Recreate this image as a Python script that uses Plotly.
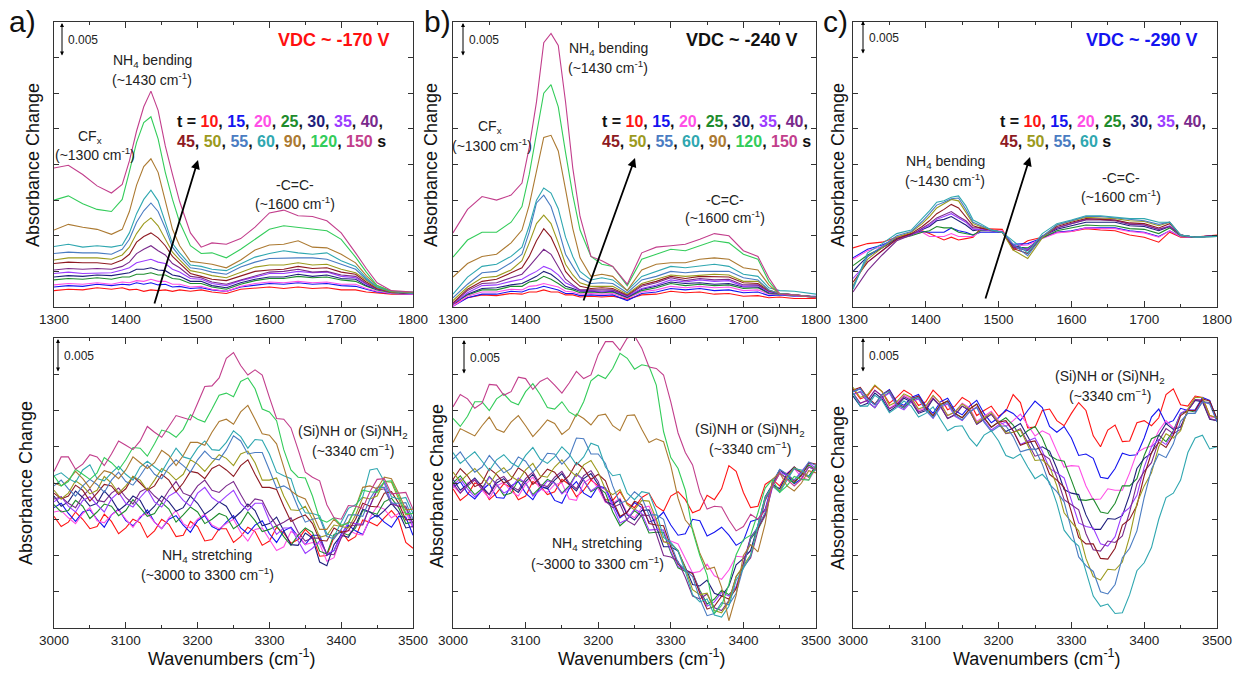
import plotly.graph_objects as go

W, H = 1242, 673
FONT = "Liberation Sans, Arial, sans-serif"
UNIT = 1e-4  # stored values are in units of 1e-4 absorbance

# ---------------- data ----------------
X_TOP = [1300, 1320, 1340, 1360, 1380, 1395, 1405, 1415, 1425, 1435, 1445, 1455, 1465, 1475, 1490,
         1505, 1520, 1540, 1560, 1580, 1600, 1620, 1640, 1660, 1680, 1700, 1720, 1735, 1750, 1770, 1800]
X_BOT = [3000, 3010, 3020, 3030, 3040, 3050, 3060, 3070, 3080, 3090, 3100, 3110, 3120, 3130, 3140,
         3150, 3160, 3170, 3180, 3190, 3200, 3210, 3220, 3230, 3240, 3250, 3260, 3270, 3280, 3290,
         3300, 3310, 3320, 3330, 3340, 3350, 3360, 3370, 3380, 3390, 3400, 3410, 3420, 3430, 3440,
         3450, 3460, 3470, 3480, 3490, 3500]

TIMES_AB = [10, 15, 20, 25, 30, 35, 40, 45, 50, 55, 60, 90, 120, 150]
TIMES_C = [10, 15, 20, 25, 30, 35, 40, 45, 50, 55, 60]

COLORS = {10: "#FF1414", 15: "#1414F0", 20: "#FF4FE6", 25: "#1E8C2C", 30: "#1E1E7C",
          35: "#9B3CFF", 40: "#7A2A8C", 45: "#8E1A22", 50: "#9C9A1E", 55: "#4A7CC2",
          60: "#2FA7B0", 90: "#AC7A32", 120: "#33CC5A", 150: "#C23E8C"}

A_TOP = {
    10: [23, 25, 24, 27, 25, 27, 24, 25, 22, 24, 23, 24, 22, 24, 22, 24, 21, 19, 25, 27, 28, 26, 28, 26, 27, 24, 24, 21, 20, 18, 18],
    15: [28, 30, 29, 32, 30, 32, 31, 34, 32, 34, 31, 32, 28, 29, 26, 27, 24, 22, 28, 31, 33, 32, 34, 32, 33, 30, 29, 25, 21, 19, 18],
    20: [31, 33, 32, 34, 32, 35, 34, 37, 36, 39, 36, 36, 32, 32, 28, 29, 25, 22, 29, 33, 35, 34, 36, 34, 35, 32, 32, 26, 22, 19, 18],
    25: [38, 40, 39, 41, 39, 42, 42, 46, 46, 48, 45, 45, 40, 39, 33, 33, 28, 25, 32, 37, 40, 40, 43, 41, 42, 38, 36, 29, 24, 20, 19],
    30: [42, 44, 43, 45, 44, 47, 48, 53, 53, 55, 52, 51, 45, 43, 36, 36, 30, 27, 34, 39, 42, 42, 46, 43, 45, 40, 39, 30, 25, 21, 19],
    35: [47, 49, 47, 48, 48, 52, 55, 62, 64, 67, 63, 61, 53, 49, 40, 39, 33, 30, 37, 42, 47, 47, 50, 48, 49, 43, 41, 32, 25, 21, 19],
    40: [52, 54, 53, 54, 53, 57, 63, 75, 81, 86, 79, 73, 61, 55, 43, 41, 35, 32, 38, 44, 49, 50, 53, 49, 50, 45, 43, 33, 25, 21, 19],
    45: [61, 63, 62, 62, 60, 66, 74, 91, 99, 104, 97, 86, 71, 61, 47, 43, 39, 37, 44, 50, 52, 53, 57, 54, 55, 49, 46, 35, 26, 21, 19],
    50: [66, 69, 69, 69, 67, 73, 84, 103, 117, 125, 114, 96, 77, 66, 51, 48, 44, 41, 49, 56, 59, 59, 62, 59, 60, 53, 48, 37, 27, 21, 20],
    55: [75, 77, 76, 76, 74, 81, 95, 119, 135, 146, 134, 111, 84, 71, 55, 53, 49, 46, 56, 63, 68, 69, 69, 69, 67, 60, 53, 39, 28, 22, 19],
    60: [85, 88, 84, 86, 84, 87, 104, 131, 151, 164, 149, 119, 89, 76, 59, 57, 53, 51, 61, 70, 75, 79, 76, 74, 76, 65, 57, 41, 28, 22, 19],
    90: [108, 116, 112, 109, 102, 109, 134, 171, 197, 208, 189, 151, 109, 86, 64, 62, 60, 55, 66, 80, 87, 88, 93, 84, 83, 74, 62, 44, 30, 22, 20],
    120: [150, 156, 145, 137, 134, 151, 190, 231, 259, 267, 236, 189, 151, 119, 86, 75, 76, 69, 81, 95, 109, 114, 112, 109, 107, 95, 70, 49, 30, 22, 21],
    150: [195, 199, 186, 170, 160, 172, 205, 247, 281, 303, 276, 226, 186, 148, 104, 84, 90, 88, 96, 112, 132, 136, 128, 127, 121, 104, 76, 54, 34, 23, 21],
}

B_TOP = {
    10: [4, 13, 17, 16, 19, 18, 21, 21, 24, 21, 21, 17, 17, 14, 15, 14, 15, 11, 17, 18, 22, 20, 21, 18, 19, 15, 16, 13, 14, 12, 12],
    15: [1, 13, 18, 18, 22, 21, 25, 26, 29, 26, 24, 19, 19, 16, 17, 16, 17, 9, 19, 21, 26, 24, 26, 23, 24, 20, 21, 16, 17, 15, 15],
    20: [1, 15, 21, 21, 25, 24, 29, 30, 33, 30, 28, 22, 21, 18, 19, 18, 19, 12, 21, 24, 29, 27, 29, 27, 28, 23, 24, 18, 18, 16, 14],
    25: [4, 17, 24, 24, 29, 29, 35, 37, 43, 39, 33, 26, 24, 20, 21, 20, 21, 13, 23, 27, 33, 30, 32, 30, 31, 26, 27, 19, 18, 16, 14],
    30: [4, 18, 26, 27, 31, 33, 38, 43, 50, 46, 38, 29, 26, 22, 22, 21, 22, 14, 25, 29, 35, 33, 34, 32, 33, 28, 28, 20, 19, 17, 14],
    35: [4, 20, 30, 31, 36, 39, 45, 50, 57, 53, 45, 34, 29, 23, 23, 22, 23, 15, 26, 31, 38, 35, 38, 36, 37, 29, 30, 21, 19, 17, 14],
    40: [5, 23, 33, 34, 41, 46, 57, 69, 81, 74, 57, 39, 31, 24, 24, 24, 24, 16, 29, 34, 41, 37, 40, 38, 39, 31, 31, 22, 19, 17, 14],
    45: [6, 25, 36, 39, 48, 55, 71, 93, 110, 98, 76, 50, 38, 29, 26, 27, 26, 17, 31, 36, 43, 40, 43, 42, 42, 34, 33, 23, 19, 17, 14],
    50: [9, 28, 41, 43, 52, 65, 90, 117, 129, 117, 90, 60, 45, 34, 29, 29, 29, 18, 33, 39, 45, 43, 45, 46, 45, 36, 36, 24, 19, 17, 14],
    55: [13, 32, 48, 50, 62, 74, 105, 146, 157, 141, 110, 74, 57, 41, 33, 34, 33, 20, 38, 43, 50, 48, 50, 50, 50, 41, 38, 24, 19, 17, 14],
    60: [18, 42, 57, 60, 71, 84, 114, 150, 167, 160, 138, 98, 71, 50, 38, 41, 38, 23, 43, 50, 57, 55, 57, 60, 57, 46, 43, 27, 23, 22, 18],
    90: [42, 61, 71, 74, 90, 108, 143, 193, 238, 241, 219, 165, 110, 69, 43, 46, 43, 23, 52, 60, 62, 62, 67, 69, 67, 55, 52, 31, 18, 17, 13],
    120: [70, 94, 105, 105, 119, 141, 186, 241, 300, 312, 281, 217, 157, 108, 71, 60, 57, 30, 67, 74, 81, 79, 86, 93, 90, 74, 67, 36, 18, 17, 13],
    150: [104, 137, 155, 150, 157, 174, 224, 288, 371, 384, 367, 288, 195, 127, 71, 65, 57, 32, 76, 84, 86, 88, 95, 103, 100, 79, 71, 41, 18, 17, 13],
}

C_TOP = {
    10: [83, 89, 91, 98, 103, 107, 103, 98, 94, 98, 94, 96, 98, 110, 110, 109, 80, 93, 98, 105, 106, 110, 108, 107, 101, 98, 91, 105, 98, 98, 101],
    15: [69, 81, 87, 96, 101, 106, 105, 105, 105, 111, 107, 105, 101, 105, 105, 105, 88, 89, 97, 105, 107, 111, 111, 111, 107, 105, 99, 107, 99, 98, 100],
    20: [67, 79, 85, 96, 101, 105, 99, 99, 99, 103, 99, 99, 99, 107, 107, 107, 86, 87, 96, 104, 106, 111, 110, 110, 106, 104, 98, 107, 99, 98, 100],
    25: [58, 73, 83, 95, 100, 105, 107, 113, 111, 111, 105, 103, 101, 107, 107, 105, 84, 83, 97, 107, 111, 115, 114, 114, 110, 109, 103, 111, 100, 98, 100],
    30: [50, 71, 83, 96, 102, 109, 113, 121, 123, 127, 121, 115, 107, 109, 107, 105, 86, 81, 99, 109, 114, 119, 119, 119, 114, 113, 107, 113, 101, 98, 100],
    35: [40, 63, 79, 95, 101, 109, 115, 123, 127, 131, 125, 119, 109, 109, 107, 105, 84, 81, 99, 111, 117, 123, 124, 122, 117, 115, 109, 114, 101, 98, 100],
    40: [21, 51, 73, 93, 101, 111, 117, 125, 129, 134, 127, 121, 111, 111, 108, 105, 84, 79, 99, 111, 117, 122, 122, 121, 116, 115, 109, 113, 101, 98, 100],
    45: [35, 63, 79, 95, 103, 113, 121, 131, 137, 144, 139, 127, 114, 111, 108, 105, 82, 75, 99, 113, 119, 124, 123, 122, 118, 117, 111, 117, 101, 98, 100],
    50: [30, 67, 83, 98, 105, 117, 127, 139, 145, 151, 149, 133, 117, 113, 108, 105, 80, 68, 97, 115, 121, 126, 125, 124, 121, 120, 114, 119, 101, 98, 99],
    55: [28, 71, 85, 100, 106, 120, 131, 143, 147, 152, 153, 137, 119, 115, 108, 105, 88, 72, 99, 115, 121, 127, 127, 125, 122, 121, 116, 119, 101, 98, 99],
    60: [25, 76, 89, 103, 108, 124, 135, 147, 149, 154, 156, 142, 122, 117, 108, 105, 93, 76, 103, 117, 122, 128, 128, 126, 124, 124, 119, 119, 101, 98, 99],
}

A_BOT = {
    10: [154, 140, 146, 160, 150, 137, 140, 157, 147, 130, 138, 150, 145, 125, 134, 150, 143, 126, 128, 147, 140, 120, 122, 137, 137, 118, 126, 139, 133, 114, 120, 139, 131, 117, 122, 136, 126, 99, 100, 125, 134, 120, 126, 149, 146, 141, 152, 162, 150, 118, 110],
    15: [166, 172, 158, 147, 160, 163, 150, 139, 156, 164, 148, 141, 152, 163, 146, 137, 150, 155, 142, 132, 148, 155, 140, 135, 146, 155, 138, 130, 142, 148, 130, 118, 134, 139, 126, 115, 128, 128, 100, 107, 130, 142, 134, 129, 150, 156, 146, 139, 154, 153, 128],
    20: [160, 162, 152, 144, 158, 166, 148, 145, 156, 163, 150, 139, 154, 158, 146, 137, 152, 162, 144, 138, 150, 157, 142, 137, 144, 150, 132, 120, 136, 138, 122, 107, 112, 133, 128, 115, 118, 116, 92, 97, 126, 135, 130, 128, 152, 168, 164, 152, 158, 160, 138],
    25: [170, 160, 162, 176, 168, 151, 160, 171, 168, 155, 162, 177, 166, 154, 158, 173, 164, 146, 156, 167, 160, 144, 150, 158, 154, 137, 144, 160, 148, 133, 136, 141, 126, 114, 128, 138, 132, 106, 102, 129, 132, 128, 138, 162, 160, 157, 174, 179, 166, 144, 146],
    30: [182, 168, 174, 189, 180, 168, 172, 189, 178, 162, 170, 182, 176, 158, 168, 182, 174, 161, 166, 182, 172, 157, 164, 174, 168, 151, 160, 171, 162, 141, 144, 153, 134, 115, 114, 131, 124, 91, 86, 115, 128, 125, 142, 164, 160, 153, 162, 172, 160, 138, 140],
    35: [174, 181, 168, 160, 176, 181, 170, 160, 178, 187, 172, 167, 180, 191, 174, 167, 182, 188, 176, 168, 186, 194, 180, 173, 182, 190, 172, 162, 172, 172, 148, 129, 138, 138, 120, 103, 110, 120, 102, 107, 128, 146, 144, 143, 168, 192, 200, 173, 168, 166, 140],
    40: [178, 181, 172, 166, 182, 192, 176, 174, 186, 193, 180, 171, 188, 193, 182, 174, 190, 202, 186, 182, 196, 204, 190, 187, 196, 202, 184, 167, 178, 176, 156, 141, 146, 152, 132, 120, 124, 124, 102, 101, 124, 140, 142, 142, 168, 190, 192, 171, 168, 168, 144],
    45: [186, 178, 182, 197, 190, 175, 186, 198, 196, 184, 192, 209, 200, 190, 196, 212, 204, 188, 200, 216, 214, 206, 220, 225, 218, 209, 224, 232, 212, 194, 194, 191, 168, 147, 152, 156, 144, 121, 120, 138, 132, 134, 150, 172, 168, 167, 186, 188, 172, 149, 150],
    50: [190, 178, 186, 203, 196, 185, 190, 209, 200, 186, 196, 209, 204, 190, 204, 220, 214, 204, 212, 232, 226, 216, 228, 239, 234, 224, 240, 244, 228, 204, 204, 207, 182, 163, 162, 168, 150, 125, 128, 142, 140, 138, 156, 180, 178, 182, 202, 201, 178, 156, 158],
    55: [196, 204, 192, 182, 196, 205, 198, 187, 204, 215, 202, 197, 210, 225, 212, 206, 222, 232, 224, 215, 232, 244, 234, 232, 246, 265, 258, 240, 242, 242, 218, 193, 196, 190, 166, 146, 150, 152, 126, 123, 136, 156, 156, 154, 178, 194, 194, 172, 172, 173, 150],
    60: [210, 214, 206, 201, 218, 225, 206, 203, 214, 223, 212, 204, 222, 230, 222, 215, 232, 248, 236, 233, 248, 258, 246, 245, 256, 272, 264, 248, 260, 259, 240, 215, 210, 206, 176, 159, 158, 155, 130, 126, 146, 165, 170, 181, 218, 220, 202, 181, 178, 180, 158],
    90: [200, 196, 204, 216, 206, 193, 206, 217, 214, 206, 218, 236, 228, 220, 228, 245, 238, 224, 238, 256, 256, 252, 270, 285, 288, 281, 298, 307, 288, 268, 266, 254, 222, 189, 182, 178, 158, 136, 136, 150, 140, 146, 166, 194, 196, 192, 208, 206, 186, 163, 164],
    120: [210, 196, 202, 219, 212, 205, 214, 235, 228, 218, 232, 249, 248, 237, 254, 273, 270, 263, 274, 294, 288, 284, 302, 321, 324, 319, 340, 345, 330, 302, 298, 286, 246, 218, 208, 207, 182, 150, 146, 152, 142, 144, 166, 190, 188, 187, 202, 203, 182, 158, 158],
    150: [216, 236, 236, 219, 226, 239, 236, 224, 240, 258, 252, 246, 258, 278, 270, 263, 278, 293, 290, 287, 310, 333, 334, 345, 372, 380, 362, 349, 356, 349, 318, 289, 288, 276, 246, 215, 208, 203, 170, 152, 150, 169, 168, 165, 188, 205, 206, 185, 186, 187, 164],
}

B_BOT = {
    10: [192, 176, 184, 200, 196, 177, 186, 199, 194, 177, 182, 202, 196, 184, 188, 205, 198, 181, 190, 204, 196, 177, 176, 188, 172, 166, 180, 186, 168, 161, 182, 188, 177, 159, 163, 183, 177, 192, 224, 216, 187, 166, 168, 198, 205, 196, 212, 222, 214, 209, 224],
    15: [194, 202, 186, 178, 190, 199, 180, 179, 196, 202, 186, 177, 194, 193, 176, 172, 192, 202, 186, 180, 196, 193, 172, 152, 160, 173, 166, 146, 150, 160, 142, 128, 130, 150, 148, 127, 132, 139, 128, 114, 120, 147, 150, 164, 200, 218, 210, 199, 206, 222, 218],
    20: [196, 186, 200, 205, 190, 179, 196, 201, 188, 182, 198, 208, 192, 187, 198, 200, 178, 176, 200, 207, 192, 173, 172, 179, 158, 152, 166, 168, 146, 119, 120, 116, 96, 76, 78, 88, 72, 67, 80, 99, 98, 106, 138, 178, 196, 192, 214, 220, 208, 204, 220],
    25: [200, 210, 196, 184, 192, 209, 198, 183, 186, 204, 200, 184, 194, 205, 200, 186, 196, 213, 204, 188, 194, 186, 160, 141, 150, 162, 154, 131, 132, 132, 104, 83, 78, 76, 52, 33, 40, 52, 46, 56, 86, 123, 136, 155, 196, 214, 206, 200, 212, 225, 218],
    30: [205, 190, 198, 207, 195, 184, 200, 206, 194, 187, 202, 212, 196, 192, 204, 213, 198, 189, 206, 213, 198, 175, 170, 177, 156, 149, 162, 163, 140, 112, 112, 106, 84, 60, 58, 66, 48, 44, 58, 87, 96, 107, 142, 181, 198, 192, 212, 222, 214, 209, 224],
    35: [196, 206, 192, 181, 190, 208, 198, 186, 192, 207, 200, 182, 190, 203, 200, 185, 194, 212, 204, 189, 196, 191, 168, 145, 150, 164, 158, 135, 136, 135, 106, 85, 80, 76, 50, 30, 36, 49, 44, 57, 90, 126, 138, 155, 194, 215, 210, 204, 216, 228, 220],
    40: [200, 186, 196, 204, 192, 184, 204, 209, 196, 190, 206, 215, 198, 195, 208, 216, 200, 192, 210, 217, 202, 175, 166, 171, 148, 142, 156, 155, 130, 100, 98, 92, 70, 44, 40, 47, 28, 24, 38, 71, 84, 97, 134, 176, 196, 189, 208, 220, 214, 208, 222],
    45: [205, 220, 210, 195, 200, 220, 212, 200, 205, 221, 214, 198, 207, 219, 215, 201, 210, 228, 220, 205, 212, 203, 176, 154, 160, 175, 170, 144, 142, 141, 112, 88, 80, 75, 48, 26, 30, 44, 40, 54, 88, 125, 138, 157, 198, 218, 212, 202, 210, 228, 226],
    50: [215, 202, 212, 220, 208, 197, 214, 221, 209, 203, 218, 227, 210, 208, 222, 232, 218, 209, 225, 231, 215, 191, 184, 191, 170, 163, 176, 175, 150, 119, 116, 107, 82, 53, 46, 48, 24, 21, 36, 71, 86, 101, 140, 179, 196, 189, 208, 221, 216, 208, 220],
    55: [233, 243, 228, 215, 222, 238, 226, 214, 220, 236, 230, 215, 226, 241, 240, 226, 236, 262, 261, 240, 240, 227, 196, 172, 176, 188, 180, 156, 156, 150, 116, 90, 80, 71, 40, 17, 20, 35, 32, 48, 84, 124, 140, 159, 200, 219, 212, 204, 214, 229, 224],
    60: [242, 227, 235, 243, 230, 217, 232, 239, 228, 222, 238, 249, 233, 227, 236, 250, 240, 225, 236, 255, 251, 222, 210, 212, 186, 177, 188, 186, 160, 125, 118, 106, 78, 46, 36, 40, 18, 15, 30, 66, 82, 100, 142, 180, 196, 187, 204, 220, 218, 209, 220],
    90: [256, 275, 270, 265, 279, 291, 274, 270, 284, 293, 279, 264, 275, 287, 282, 267, 275, 295, 289, 280, 293, 295, 279, 272, 293, 294, 274, 256, 261, 257, 224, 179, 149, 137, 103, 81, 84, 56, 10, 45, 100, 115, 105, 144, 205, 214, 196, 189, 200, 217, 214],
    120: [289, 278, 292, 312, 312, 300, 316, 323, 312, 308, 326, 337, 322, 304, 302, 312, 298, 292, 312, 341, 349, 344, 358, 379, 372, 357, 363, 361, 335, 271, 235, 220, 190, 134, 100, 73, 20, 31, 60, 101, 122, 128, 159, 193, 205, 187, 196, 209, 205, 204, 224],
    150: [305, 322, 316, 303, 310, 336, 335, 321, 326, 346, 344, 329, 340, 345, 335, 324, 338, 354, 344, 349, 377, 395, 395, 383, 400, 403, 386, 360, 358, 349, 312, 269, 242, 225, 187, 164, 168, 167, 149, 134, 140, 157, 150, 162, 196, 213, 205, 196, 205, 222, 219],
}

C_BOT = {
    10: [330, 316, 320, 334, 326, 310, 318, 328, 322, 307, 312, 328, 318, 301, 306, 318, 312, 293, 300, 306, 292, 299, 322, 311, 276, 277, 300, 302, 286, 279, 296, 311, 300, 265, 250, 273, 280, 257, 258, 283, 286, 279, 290, 322, 330, 308, 306, 320, 318, 293, 290],
    15: [326, 330, 316, 308, 322, 329, 312, 307, 318, 322, 306, 296, 312, 317, 300, 294, 306, 314, 296, 283, 290, 301, 296, 286, 300, 313, 304, 278, 270, 278, 262, 238, 240, 234, 208, 206, 220, 241, 238, 239, 262, 291, 302, 282, 286, 303, 300, 301, 318, 314, 288],
    20: [324, 310, 314, 328, 320, 303, 310, 321, 316, 300, 304, 320, 310, 293, 298, 310, 304, 285, 292, 299, 286, 278, 286, 295, 280, 265, 272, 267, 244, 222, 224, 223, 196, 177, 178, 192, 190, 190, 214, 242, 248, 251, 272, 286, 276, 278, 300, 315, 314, 291, 290],
    25: [322, 326, 312, 304, 318, 325, 308, 303, 314, 318, 302, 292, 308, 313, 296, 290, 302, 309, 290, 277, 284, 290, 280, 264, 272, 278, 262, 238, 232, 230, 204, 177, 176, 178, 160, 158, 172, 196, 196, 206, 238, 261, 266, 257, 272, 296, 300, 298, 312, 311, 288],
    30: [320, 306, 310, 324, 316, 299, 306, 317, 312, 296, 300, 316, 306, 289, 294, 306, 300, 281, 288, 295, 282, 271, 276, 282, 264, 246, 250, 244, 220, 191, 186, 184, 156, 136, 136, 151, 150, 155, 184, 220, 234, 241, 266, 282, 274, 277, 300, 314, 312, 288, 286],
    35: [322, 326, 312, 304, 318, 324, 306, 301, 312, 316, 300, 289, 304, 309, 292, 286, 298, 305, 286, 273, 280, 284, 272, 253, 258, 262, 244, 220, 214, 207, 176, 145, 140, 138, 116, 113, 126, 158, 166, 183, 222, 250, 260, 253, 270, 296, 302, 299, 312, 310, 286],
    40: [324, 310, 314, 328, 320, 302, 308, 319, 314, 298, 302, 317, 306, 289, 294, 306, 300, 281, 288, 295, 282, 268, 270, 275, 256, 237, 240, 233, 208, 177, 170, 163, 130, 108, 106, 120, 118, 127, 160, 199, 216, 228, 258, 275, 268, 274, 300, 315, 314, 289, 286],
    45: [328, 332, 318, 309, 322, 328, 310, 305, 316, 320, 304, 293, 308, 313, 296, 290, 302, 309, 290, 277, 284, 286, 272, 252, 256, 258, 238, 212, 204, 194, 160, 125, 116, 116, 96, 95, 110, 142, 150, 169, 210, 242, 256, 249, 266, 293, 300, 300, 316, 313, 288],
    50: [332, 318, 322, 335, 326, 307, 312, 323, 318, 302, 306, 321, 310, 293, 298, 309, 302, 283, 290, 297, 284, 269, 270, 273, 252, 231, 232, 223, 196, 159, 146, 134, 96, 71, 66, 81, 80, 91, 126, 172, 196, 214, 250, 268, 262, 272, 302, 318, 318, 293, 290],
    55: [326, 330, 316, 308, 322, 327, 308, 304, 316, 318, 300, 290, 306, 311, 294, 287, 298, 304, 284, 271, 278, 279, 264, 243, 246, 247, 226, 198, 188, 174, 136, 98, 86, 78, 50, 47, 60, 97, 110, 134, 180, 219, 240, 235, 254, 285, 296, 296, 312, 309, 284],
    60: [324, 306, 306, 321, 314, 297, 304, 313, 306, 291, 296, 305, 288, 272, 278, 279, 262, 251, 266, 272, 258, 238, 234, 240, 222, 206, 212, 201, 172, 135, 122, 113, 78, 44, 30, 33, 20, 21, 46, 79, 90, 111, 150, 180, 186, 204, 242, 262, 266, 247, 250],
}

TOP_TICKS = [1300, 1400, 1500, 1600, 1700, 1800]
BOT_TICKS = [3000, 3100, 3200, 3300, 3400, 3500]

# ---------------- figure ----------------
fig = go.Figure()

XDOM = [[54 / W, 413 / W], [453 / W, 816 / W], [853 / W, 1217 / W]]
YDOM_TOP = [1 - 307 / H, 1 - 22 / H]
YDOM_BOT = [1 - 628 / H, 1 - 338 / H]

panels = [
    (1, X_TOP, A_TOP, TIMES_AB, TOP_TICKS, XDOM[0], YDOM_TOP),
    (2, X_TOP, B_TOP, TIMES_AB, TOP_TICKS, XDOM[1], YDOM_TOP),
    (3, X_TOP, C_TOP, TIMES_C, TOP_TICKS, XDOM[2], YDOM_TOP),
    (4, X_BOT, A_BOT, TIMES_AB, BOT_TICKS, XDOM[0], YDOM_BOT),
    (5, X_BOT, B_BOT, TIMES_AB, BOT_TICKS, XDOM[1], YDOM_BOT),
    (6, X_BOT, C_BOT, TIMES_C, BOT_TICKS, XDOM[2], YDOM_BOT),
]

layout_axes = {}
for idx, xs, data, times, ticks, xdom, ydom in panels:
    sfx = "" if idx == 1 else str(idx)
    for t in times:
        fig.add_trace(go.Scatter(
            x=xs, y=[v * UNIT for v in data[t]], mode="lines",
            line=dict(color=COLORS[t], width=1.1),
            xaxis="x" + sfx, yaxis="y" + sfx, showlegend=False, hoverinfo="skip"))
    layout_axes["xaxis" + sfx] = dict(
        domain=xdom, anchor="y" + sfx, range=[ticks[0], ticks[-1]],
        tickvals=ticks, ticktext=[str(v) for v in ticks],
        ticks="inside", ticklen=6, tickwidth=1, tickcolor="#333",
        minor=dict(dtick=50, tick0=ticks[0], ticks="inside", ticklen=3, tickcolor="#333"),
        showline=True, linecolor="#333", linewidth=1.2, mirror="ticks",
        showgrid=False, zeroline=False, automargin=False,
        tickfont=dict(family=FONT, size=13.5, color="#222"))
    layout_axes["yaxis" + sfx] = dict(
        domain=ydom, anchor="x" + sfx, range=[0, 0.04], dtick=0.005, tick0=0,
        ticks="inside", ticklen=5, tickwidth=1, tickcolor="#333",
        showticklabels=False, showline=True, linecolor="#333", linewidth=1.2,
        mirror="ticks", showgrid=False, zeroline=False, automargin=False)


def px(x):
    return x / W


def py(y):
    return 1 - y / H


def label(x, y, text, size=14, color="#222", xanchor="center", angle=0):
    return dict(x=px(x), y=py(y), xref="paper", yref="paper", text=text,
                showarrow=False, xanchor=xanchor, yanchor="middle", textangle=angle,
                font=dict(family=FONT, size=size, color=color))


def arrow(x0, y0, x1, y1, width=1.0, both=False, size=1.0):
    return dict(x=px(x1), y=py(y1), xref="paper", yref="paper",
                ax=x0 - x1, ay=y0 - y1, axref="pixel", ayref="pixel",
                text="", showarrow=True, arrowhead=2, arrowsize=size,
                arrowwidth=width, arrowcolor="black",
                arrowside="end+start" if both else "end")


def tline(times):
    return ["<span style='color:%s'>%d</span>" % (COLORS[t], t) for t in times]


ann = []
# panel letters
for x, t in [(22, "a)"), (437, "b)"), (835, "c)")]:
    ann.append(label(x, 22, t, size=30, color="#111"))

# VDC labels
ann.append(label(392, 40, "<b>VDC ~ -170 V</b>", size=18, color="#FF1010", xanchor="right"))
ann.append(label(800, 40, "<b>VDC ~ -240 V</b>", size=18, color="#111", xanchor="right"))
ann.append(label(1200, 40, "<b>VDC ~ -290 V</b>", size=18, color="#1414F0", xanchor="right"))

# scale bars
for xb, y0, y1 in [(62, 23, 57), (463, 23, 57), (863, 21, 55),
                   (58, 339, 373), (464, 340, 375), (863, 338, 373)]:
    ann.append(arrow(xb, y1, xb, y0, width=1.0, both=True, size=0.8))
    ann.append(label(xb + 4, (y0 + y1) / 2, "0.005", size=12, xanchor="left"))

# time legends
pa = tline(TIMES_AB)
l1 = "<b>t = " + ", ".join(pa[:7]) + ",</b>"
l2 = "<b>" + ", ".join(pa[7:]) + " s</b>"
pc = tline(TIMES_C)
l1c = "<b>t = " + ", ".join(pc[:7]) + ",</b>"
l2c = "<b>" + ", ".join(pc[7:]) + " s</b>"
for x, a, b in [(175, l1, l2), (600, l1, l2), (998, l1c, l2c)]:
    ann.append(label(x, 121, a, size=16, color="#111", xanchor="left"))
    ann.append(label(x, 141, b, size=16, color="#111", xanchor="left"))

# trend arrows
ann.append(arrow(154, 305, 198, 160, width=1.8, size=1.0))
ann.append(arrow(583, 302, 635, 158, width=1.8, size=1.0))
ann.append(arrow(985, 300, 1030, 157, width=1.8, size=1.0))

# band labels
NH4B = "NH<sub>4</sub> bending"
C1430 = "(~1430 cm<sup>-1</sup>)"
CFX = "CF<sub>x</sub>"
C1300 = "(~1300 cm<sup>-1</sup>)"
CC = "-C=C-"
C1600 = "(~1600 cm<sup>-1</sup>)"
SINH = "(Si)NH or (Si)NH<sub>2</sub>"
C3340 = "(~3340 cm<sup>−1</sup>)"
NH4S = "NH<sub>4</sub> stretching"
C3000 = "(~3000 to 3300 cm<sup>−1</sup>)"

for x, y, t in [(152, 61, NH4B), (152, 79, C1430), (90, 137, CFX), (95, 154, C1300),
                (295, 185, CC), (295, 203, C1600),
                (608, 49, NH4B), (608, 67, C1430), (490, 127, CFX), (492, 145, C1300),
                (725, 200, CC), (725, 217, C1600),
                (945, 162, NH4B), (945, 180, C1430), (1121, 178, CC), (1121, 196, C1600),
                (353, 432, SINH), (353, 450, C3340), (207, 556, NH4S), (207, 574, C3000),
                (750, 430, SINH), (750, 448, C3340), (597, 544, NH4S), (597, 563, C3000),
                (1110, 377, SINH), (1110, 395, C3340)]:
    ann.append(label(x, y, t, size=14))

# axis titles
for x in [232, 642, 1037]:
    ann.append(label(x, 657, "Wavenumbers (cm<sup>-1</sup>)", size=18, color="#111"))
for x, y in [(33, 165), (431, 165), (838, 165), (26, 483), (437, 486), (838, 488)]:
    ann.append(label(x, y, "Absorbance Change", size=18, color="#111", angle=-90))

fig.update_layout(
    width=W, height=H, margin=dict(l=0, r=0, t=0, b=0, pad=0, autoexpand=False),
    paper_bgcolor="white", plot_bgcolor="white", showlegend=False,
    annotations=ann, **layout_axes)

fig.write_html("out.html", config={"displayModeBar": False},
               post_script="document.body.style.margin='0';document.body.style.overflow='hidden';")
